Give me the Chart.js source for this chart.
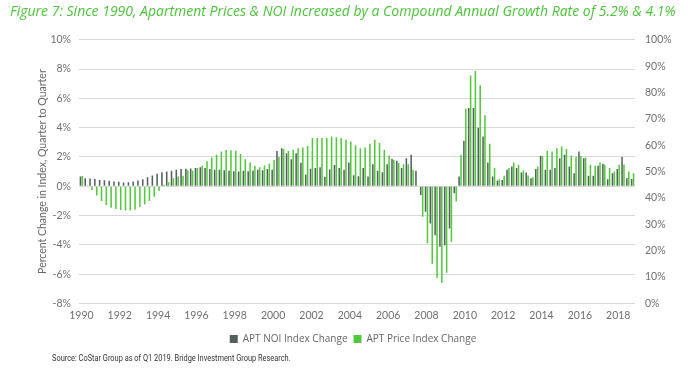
<!DOCTYPE html>
<html>
<head>
<meta charset="utf-8">
<script src="https://cdn.jsdelivr.net/npm/chart.js@4"></script>
<style>
  html, body { margin: 0; padding: 0; background: #fff; }
  #wrap { position: relative; width: 696px; height: 375px; }
  #source {
    position: absolute; left: 52px; top: 352px;
    font-family: 'Roboto', sans-serif;
    font-size: 9.5px; color: #333; white-space: nowrap;
    transform: scaleX(0.78); transform-origin: left top;
  }
</style>
</head>
<body>
<div id="wrap">
  <canvas id="chart" width="696" height="375"></canvas>
  <div id="source">Source: CoStar Group as of Q1 2019. Bridge Investment Group Research.</div>
</div>
<script>
const years = [1990, 1991, 1992, 1993, 1994, 1995, 1996, 1997, 1998, 1999,
  2000, 2001, 2002, 2003, 2004, 2005, 2006, 2007, 2008, 2009,
  2010, 2011, 2012, 2013, 2014, 2015, 2016, 2017, 2018];
const quarters = ['Q1', 'Q2', 'Q3', 'Q4'];

// quarter-on-quarter % change, 1990 Q1 .. 2018 Q4
const noiChange = [
  0.66, 0.55, 0.53, 0.50, 0.43, 0.41, 0.37, 0.32, 0.30, 0.25,
  0.27, 0.32, 0.39, 0.48, 0.62, 0.73, 0.85, 0.96, 1.00, 1.05,
  1.12, 1.17, 1.20, 1.22, 1.24, 1.30, 1.24, 1.17, 1.12, 1.12,
  1.10, 1.05, 1.03, 1.00, 1.05, 1.03, 1.07, 1.12, 1.10, 1.17,
  1.12, 2.40, 2.60, 2.25, 1.85, 2.25, 1.60, 0.80, 1.20, 1.25,
  1.30, 0.65, 1.15, 1.45, 1.24, 1.12, 1.62, 0.75, 0.68, 1.24,
  0.66, 1.50, 1.05, 0.96, 1.50, 1.88, 1.74, 1.24, 1.92, 2.15,
  1.05, -0.60, -1.74, -2.54, -3.34, -4.14, -4.03, -2.88, -0.48, 0.66,
  3.10, 5.35, 5.35, 4.00, 3.40, 1.62, 0.66, 0.39, 0.43, 1.12,
  1.35, 1.24, 0.94, 0.94, 0.55, 1.17, 2.08, 1.12, 1.12, 1.24,
  1.92, 2.15, 1.35, 0.89, 2.38, 1.92, 0.71, 0.71, 1.40, 1.53,
  0.48, 0.89, 1.17, 2.00, 0.55, 0.50
];
const priceChange = [
  0.70, 0.05, -0.25, -0.64, -1.00, -1.28, -1.47, -1.56, -1.62, -1.65,
  -1.65, -1.60, -1.42, -1.24, -1.00, -0.71, -0.32, 0.10, 0.28, 0.55,
  0.66, 0.71, 1.10, 1.05, 1.24, 1.40, 1.70, 1.97, 2.15, 2.38,
  2.50, 2.45, 2.43, 2.20, 1.85, 1.62, 1.40, 1.30, 1.42, 1.53,
  1.80, 2.00, 2.55, 2.40, 2.50, 2.60, 2.65, 2.75, 3.30, 3.30,
  3.30, 3.30, 3.40, 3.35, 3.30, 3.20, 3.05, 2.80, 2.60, 2.65,
  2.90, 3.18, 2.95, 2.50, 2.10, 1.80, 1.58, 1.50, 1.50, 1.12,
  0.05, -2.08, -3.90, -5.30, -6.27, -6.60, -5.90, -3.80, -1.05, 2.15,
  5.30, 7.57, 7.87, 6.90, 4.85, 2.90, 1.24, 0.48, 0.71, 1.24,
  1.62, 1.46, 1.08, 0.73, 0.62, 1.35, 2.04, 2.43, 2.38, 2.60,
  2.72, 2.54, 2.08, 2.00, 2.04, 1.97, 1.46, 1.40, 1.62, 1.46,
  1.24, 1.00, 1.46, 1.46, 1.00, 0.89
];

const labels = years.flatMap(y => quarters.map(q => y + ' ' + q));

const tickFont = { family: 'Lato, sans-serif', size: 10.5 };
const tickColor = '#6f6f6f';

new Chart(document.getElementById('chart'), {
  type: 'bar',
  data: {
    labels: labels,
    datasets: [
      {
        label: 'APT NOI Index Change',
        data: noiChange,
        backgroundColor: '#53605c',
        yAxisID: 'y'
      },
      {
        label: 'APT Price Index Change',
        data: priceChange,
        backgroundColor: '#52c83c',
        yAxisID: 'y'
      }
    ]
  },
  options: {
    responsive: false,
    animation: false,
    layout: { padding: { left: 10, right: 0, top: 4, bottom: 21 } },
    datasets: { bar: { categoryPercentage: 0.8, barPercentage: 0.8 } },
    plugins: {
      title: {
        display: true,
        text: 'Figure 7: Since 1990, Apartment Prices & NOI Increased by a Compound Annual Growth Rate of 5.2% & 4.1%',
        align: 'start',
        color: '#4cc43a',
        font: { family: '"Open Sans", sans-serif', size: 14, style: 'italic', weight: 'normal' },
        padding: { top: 0, bottom: 19 }
      },
      legend: {
        position: 'bottom',
        labels: {
          boxWidth: 8, boxHeight: 8, padding: 6,
          color: '#666', font: { family: '"Open Sans", sans-serif', size: 10 }
        }
      },
      tooltip: { enabled: false }
    },
    scales: {
      x: {
        grid: { display: false, drawTicks: false },
        border: { display: false },
        ticks: {
          autoSkip: false, maxRotation: 0, padding: 6,
          color: tickColor, font: tickFont,
          callback: function (val, idx) {
            const l = labels[idx];
            const y = parseInt(l, 10);
            return (l.endsWith('Q1') && y % 2 === 0) ? String(y) : '';
          }
        }
      },
      y: {
        position: 'left',
        min: -8, max: 10,
        grid: { color: '#d9d9d9', drawTicks: false },
        border: { display: false },
        ticks: { stepSize: 2, padding: 8, color: tickColor, font: tickFont, callback: v => v + '%' },
        title: {
          display: true,
          text: 'Percent Change in Index, Quarter to Quarter',
          color: '#666',
          font: { family: 'Lato, sans-serif', size: 10.5 },
          padding: { top: 26, bottom: 0 }
        },
        afterFit: s => { s.width = 69; }
      },
      y2: {
        position: 'right',
        min: 0, max: 100,
        grid: { display: false, drawTicks: false },
        border: { display: false },
        ticks: { stepSize: 10, padding: 10, color: tickColor, font: tickFont, callback: v => v + '%' },
        afterFit: s => { s.width = 61; }
      }
    }
  }
});
</script>
</body>
</html>
